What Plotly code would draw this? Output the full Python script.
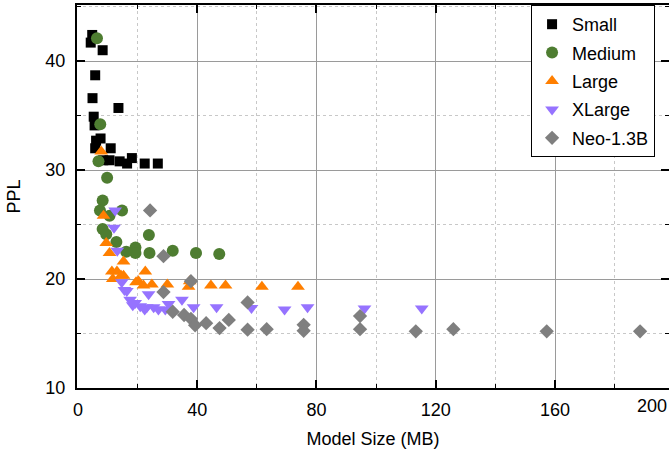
import plotly.graph_objects as go

# model size (MB) vs perplexity
small_x = [4.8, 4.3, 8.3, 5.8, 4.9, 13.6, 5.3, 5.6, 7.6, 6.1, 5.8, 11.0, 8.5, 10.6, 14.0, 16.5, 18.1, 22.4, 26.8]
small_y = [42.4, 41.7, 41.0, 38.7, 36.6, 35.7, 34.9, 34.1, 32.9, 32.7, 32.0, 32.0, 30.9, 30.9, 30.8, 30.6, 31.1, 30.6, 30.6]

medium_x = [6.4, 7.5, 6.9, 9.8, 8.3, 7.4, 10.6, 14.8, 8.3, 9.5, 12.9, 23.8, 19.3, 19.3, 16.2, 24.0, 31.8, 39.6, 47.4]
medium_y = [42.1, 34.2, 30.8, 29.3, 27.2, 26.3, 25.8, 26.3, 24.6, 24.1, 23.4, 24.05, 22.9, 22.4, 22.5, 22.4, 22.6, 22.4, 22.3]

large_x = [7.8, 8.6, 9.5, 10.6, 15.3, 11.4, 13.1, 15.3, 22.6, 11.7, 20.3, 24.8, 22.0, 30.0, 37.5, 37.1, 44.6, 49.5, 61.7, 73.8, 14.5, 19.5]
large_y = [31.7, 25.8, 23.3, 22.4, 21.6, 20.7, 20.7, 20.3, 20.7, 20.0, 19.8, 19.5, 19.4, 19.5, 19.8, 19.3, 19.4, 19.4, 19.3, 19.3, 20.3, 19.7]

xlarge_x = [12.5, 12.1, 13.2, 14.7, 16.4, 17.5, 19.2, 20.9, 23.1, 25.4, 27.0, 29.3, 23.7, 30.4, 34.9, 38.8, 46.5, 58.2, 69.3, 77.0, 96.1, 115.3, 15.6, 18.4, 22.4]
xlarge_y = [26.3, 24.7, 22.6, 19.7, 18.9, 18.1, 17.8, 17.5, 17.4, 17.4, 17.2, 17.2, 18.6, 17.7, 18.1, 17.4, 17.4, 17.35, 17.2, 17.4, 17.3, 17.3, 19.0, 17.6, 17.2]

neo_x = [24.2, 28.7, 37.9, 28.7, 31.8, 35.6, 37.9, 39.3, 43.0, 47.5, 50.6, 56.9, 56.9, 63.3, 75.7, 75.7, 94.6, 94.6, 113.3, 125.9, 157.2, 188.5]
neo_y = [26.3, 22.1, 19.8, 18.8, 17.0, 16.7, 16.35, 15.75, 15.95, 15.5, 16.25, 17.85, 15.35, 15.4, 15.8, 15.25, 16.6, 15.4, 15.2, 15.4, 15.2, 15.2]

series = [
    ("Small", small_x, small_y, "square", "#000000", 10),
    ("Medium", medium_x, medium_y, "circle", "#4E7D31", 12),
    ("Large", large_x, large_y, "triangle-up", "#FF7F00", 12),
    ("XLarge", xlarge_x, xlarge_y, "triangle-down", "#9673FF", 12),
    ("Neo-1.3B", neo_x, neo_y, "diamond", "#7F7F7F", 11),
]

font = "Liberation Sans, Arial, sans-serif"

fig = go.Figure()
for name, xs, ys, sym, col, size in series:
    fig.add_trace(go.Scatter(
        x=xs, y=ys, mode="markers", name=name, legendgroup=name,
        marker=dict(symbol=sym, color=col, size=size, line=dict(width=0)),
    ))

axis_common = dict(
    showline=True, linecolor="black", linewidth=2, mirror="allticks",
    ticks="inside", ticklen=8, tickwidth=2, tickcolor="black",
    showgrid=True, gridcolor="#9a9a9a", gridwidth=1,
    zeroline=False,
    tickfont=dict(family=font, size=18, color="black"),
)

fig.update_xaxes(
    **axis_common,
    range=[-0.3, 198.2], tick0=0, dtick=40,
    minor=dict(dtick=20, ticks="inside", ticklen=4, tickwidth=1, tickcolor="black",
               showgrid=True, gridcolor="#c8c8c8", griddash="dot", gridwidth=1),
    ticklabelstandoff=4,
    title=dict(text="Model Size (MB)", font=dict(family=font, size=18, color="black"), standoff=14),
)
fig.update_yaxes(
    **axis_common,
    range=[10, 45.15], tick0=10, dtick=10,
    minor=dict(dtick=5, ticks="inside", ticklen=4, tickwidth=1, tickcolor="black",
               showgrid=True, gridcolor="#c8c8c8", griddash="dot", gridwidth=1),
    ticklabelstandoff=6,
    title=dict(text="PPL", font=dict(family=font, size=18, color="black"), standoff=20),
)

# the 200 tick sits just past the cropped right edge; its label is pulled inside
fig.add_annotation(
    text="200", xref="paper", yref="paper", x=1, y=0, xanchor="right", yanchor="top",
    yshift=-6, showarrow=False, font=dict(family=font, size=18, color="black"),
)

fig.update_layout(
    width=669, height=458,
    margin=dict(l=77, r=0, t=5, b=70, autoexpand=False),
    paper_bgcolor="white", plot_bgcolor="white",
    font=dict(family=font, size=18, color="black"),
    showlegend=True,
    legend=dict(
        x=0.767, y=1, xanchor="left", yanchor="top",
        bgcolor="white", bordercolor="black", borderwidth=1,
        font=dict(family=font, size=18, color="black"),
        tracegroupgap=2,
    ),
)

# drop the browser's default 8px body margin so the figure sits at the corner
fig.write_html("out.html", config={"displayModeBar": False},
               post_script="document.body.style.margin='0';")
